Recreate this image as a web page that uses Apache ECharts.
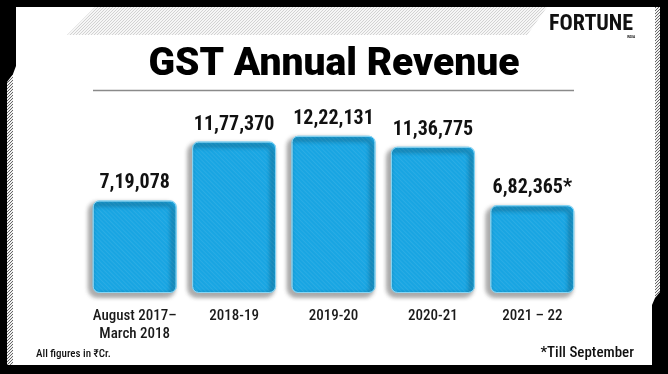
<!DOCTYPE html>
<html><head><meta charset="utf-8">
<script src="https://cdn.jsdelivr.net/npm/echarts@6/dist/echarts.min.js"></script>
<style>html,body{margin:0;padding:0;background:#000}#c{width:668px;height:374px}</style>
</head><body><div id="c"></div>
<script>
const categories = ['August 2017–\nMarch 2018', '2018-19', '2019-20', '2020-21', '2021 – 22'];
const revenue = [719078, 1177370, 1222131, 1136775, 682365];
const valueLabels = ['7,19,078', '11,77,370', '12,22,131', '11,36,775', '6,82,365*'];
const titleText = 'GST Annual Revenue';
const unitNote = 'All figures in ₹Cr.';
const footNote = '*Till September';

const NARROW = '"Liberation Sans Narrow", "Roboto Condensed", "DejaVu Sans Condensed", Roboto, sans-serif';

function hatch(bg, fg) {
  const c = document.createElement('canvas');
  c.width = 3; c.height = 3;
  const g = c.getContext('2d');
  g.fillStyle = bg; g.fillRect(0, 0, 3, 3);
  g.fillStyle = fg;
  g.fillRect(0, 2, 1, 1); g.fillRect(1, 1, 1, 1); g.fillRect(2, 0, 1, 1);
  return c;
}
const hatchGray = { image: hatch('#f6f6f6', '#d2d2d2'), repeat: 'repeat' };
const hatchDark = { image: hatch('#f0f0f0', '#666666'), repeat: 'repeat' };

const chart = echarts.init(document.getElementById('c'), null, { renderer: 'canvas' });
chart.setOption({
  backgroundColor: '#000',
  animation: false,
  grid: { left: 85, right: 86, top: 100, bottom: 81 },
  xAxis: {
    type: 'category', data: categories,
    axisLine: { show: false }, axisTick: { show: false },
    axisLabel: { interval: 0, margin: 14, fontFamily: NARROW, fontSize: 15, color: '#1a1a1a', lineHeight: 18, fontWeight: 500 }
  },
  yAxis: { type: 'value', min: 0, max: 1500000, show: false, splitLine: { show: false } },
  series: [{
    type: 'bar', data: revenue, barWidth: 84, z: 5,
    itemStyle: {
      color: '#1aaae8', borderRadius: 6, borderColor: '#86d6f6', borderWidth: 1,
      shadowColor: 'rgba(0,0,0,0.25)', shadowBlur: 5, shadowOffsetX: -3, shadowOffsetY: 3,
      decal: { symbol: 'rect', symbolSize: 1, dashArrayX: [[1, 0]], dashArrayY: [1, 2], rotation: Math.PI / 4, color: 'rgba(255,255,255,0.08)' }
    },
    label: {
      show: true, position: 'top', distance: 7,
      formatter: p => valueLabels[p.dataIndex],
      fontFamily: NARROW, fontWeight: 'bold', fontSize: 20, color: '#111'
    }
  }],
  graphic: [
    { type: 'polygon', z: -10, shape: { points: [[16,7],[655,7],[655,298],[652,305],[652,365],[13,365],[13,74],[16,66]] }, style: { fill: '#fff' } },
    { type: 'polygon', z: -9, shape: { points: [[95,7],[547,7],[527,35],[67,35]] }, style: { fill: hatchGray } },
    { type: 'polygon', z: -9, shape: { points: [[7,82],[13,74],[13,365],[7,365]] }, style: { fill: hatchDark } },
    { type: 'polygon', z: -9, shape: { points: [[655,7],[660,7],[660,292],[655,298]] }, style: { fill: hatchDark } },
    { type: 'text', z: 10, left: 'center', top: 46, style: { text: titleText, font: '900 39px Roboto, "Liberation Sans", sans-serif', fill: '#000' } },
    { type: 'line', z: 10, shape: { x1: 93, y1: 90.5, x2: 574, y2: 90.5 }, style: { stroke: '#8a8a8a', lineWidth: 1.5 } },
    { type: 'text', z: 10, x: 549, y: 13, style: { text: 'FORTUNE', font: 'bold 22px ' + NARROW, fill: '#111' } },
    { type: 'text', z: 10, x: 627, y: 36, style: { text: 'INDIA', font: 'bold 3px sans-serif', fill: '#111' } },
    { type: 'text', z: 10, x: 36, y: 349, style: { text: unitNote, font: '500 11px ' + NARROW, fill: '#111' } },
    { type: 'text', z: 10, x: 634, y: 346, style: { text: footNote, font: '500 15px ' + NARROW, fill: '#111', textAlign: 'right' } }
  ]
});
</script></body></html>
